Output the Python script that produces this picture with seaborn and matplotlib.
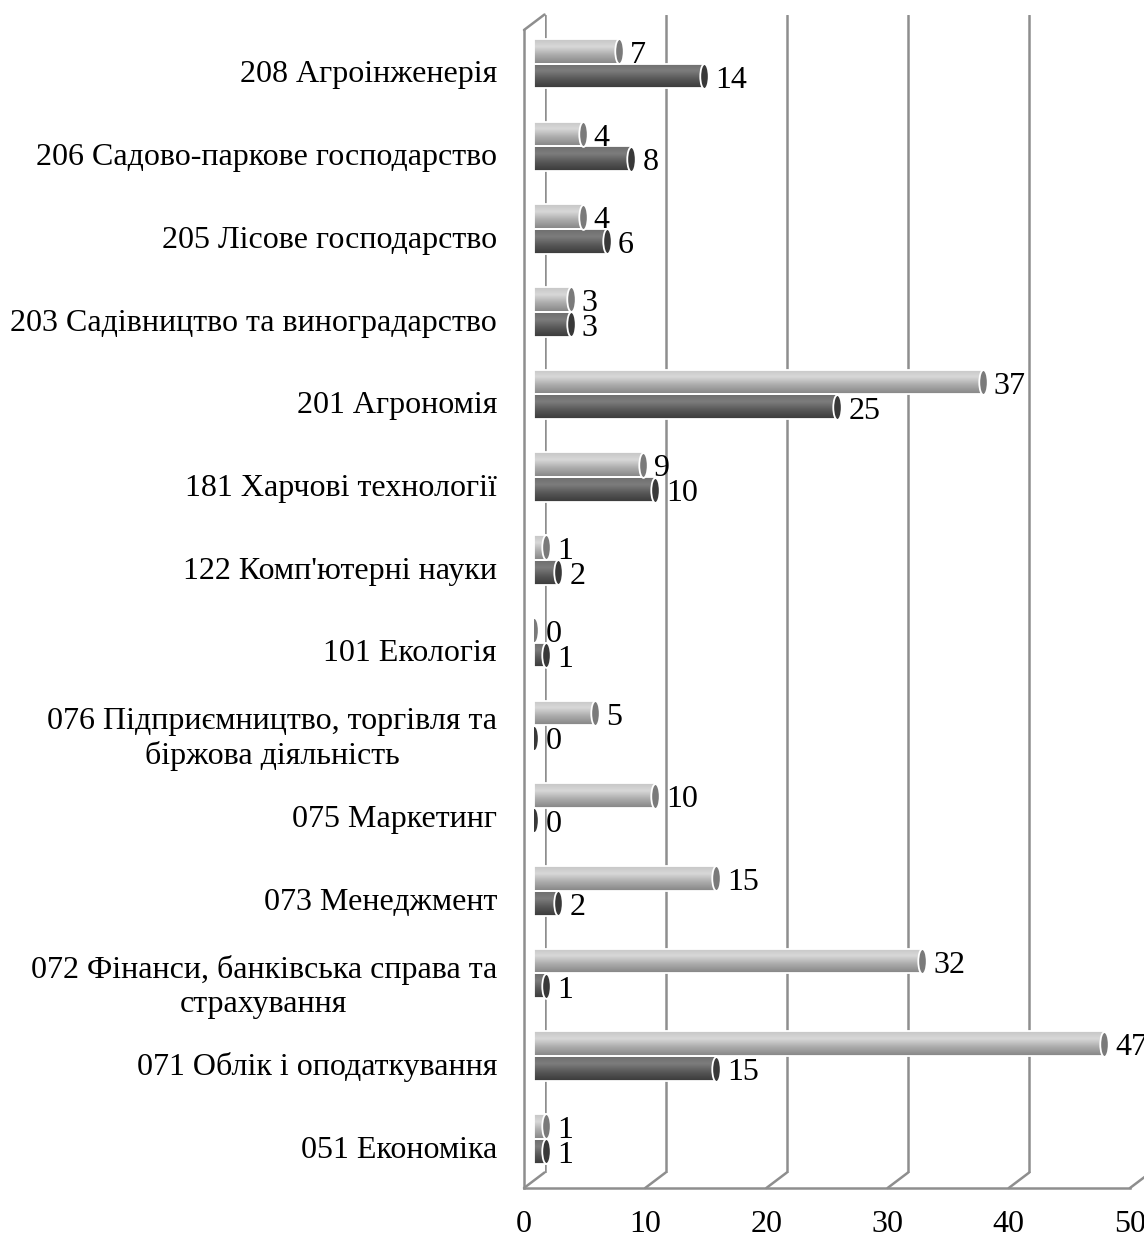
import numpy as np
import pandas as pd
import matplotlib
matplotlib.use("Agg")
import matplotlib.pyplot as plt
import matplotlib.path as mpath
from matplotlib.colors import LinearSegmentedColormap
import seaborn as sns


categories = [
    "208 Агроінженерія",
    "206 Садово-паркове господарство",
    "205 Лісове господарство",
    "203 Садівництво та виноградарство",
    "201 Агрономія",
    "181 Харчові технології",
    "122 Комп'ютерні науки",
    "101 Екологія",
    "076 Підприємництво, торгівля та\nбіржова діяльність",
    "075 Маркетинг",
    "073 Менеджмент",
    "072 Фінанси, банківська справа та\nстрахування",
    "071 Облік і оподаткування",
    "051 Економіка",
]
light_values = [7, 4, 4, 3, 37, 9, 1, 0, 5, 10, 15, 32, 47, 1]
dark_values = [14, 8, 6, 3, 25, 10, 2, 1, 0, 0, 2, 1, 15, 1]
series_names = ["Ряд 1", "Ряд 2"]
x_ticks = [0, 10, 20, 30, 40, 50]

sns.set_style("white")
plt.rcParams["font.family"] = ["Liberation Serif", "DejaVu Serif"]
plt.rcParams["font.size"] = 23
plt.rcParams["text.color"] = "black"
plt.rcParams["xtick.labelcolor"] = "black"
plt.rcParams["ytick.labelcolor"] = "black"

df = pd.DataFrame({
    "category": categories * 2,
    "series": [series_names[0]] * len(categories) + [series_names[1]] * len(categories),
    "value": light_values + dark_values,
})

grid_color = "#8e8e8e"
W, H = 1144, 1238
fig = plt.figure(figsize=(W / 100, H / 100), dpi=100)

# front plane of the 3d box in pixels, depth offset of the back wall
left, right, top, floor = 524, 1130, 30, 1188
depth = (20.5, 15.5)


def plane(dx, dy):
    return [(left + dx) / W, (H - floor + dy) / H, (right - left) / W, (floor - top) / H]


n = len(categories)
ax_back = fig.add_axes(plane(*depth))
ax_bar = fig.add_axes(plane(depth[0] / 2, depth[1] / 2))
ax = fig.add_axes(plane(0, 0))

# back wall gridlines
ax_back.set_xlim(0, 50)
ax_back.set_ylim(n - 0.5, -0.5)
ax_back.set_xticks(x_ticks)
ax_back.set_yticks([])
ax_back.grid(axis="x", color=grid_color, lw=1.8)
ax_back.tick_params(length=0, labelbottom=False)
sns.despine(ax=ax_back, left=True, bottom=True)

# cylinders
sns.barplot(data=df, x="value", y="category", hue="series", orient="h", width=0.6,
            palette=["#bdbdbd", "#5a5a5a"], saturation=1, legend=False, ax=ax_bar)

light_cmap = LinearSegmentedColormap.from_list(
    "light", [(0, "#c6c6c6"), (0.3, "#d8d8d8"), (0.65, "#aaaaaa"), (1, "#858585")])
dark_cmap = LinearSegmentedColormap.from_list(
    "dark", [(0, "#6e6e6e"), (0.3, "#7d7d7d"), (0.65, "#565656"), (1, "#3a3a3a")])
grad = np.linspace(0, 1, 64).reshape(-1, 1)

circle = mpath.Path.unit_circle()
cap_marker = mpath.Path(circle.vertices * [0.34, 1.0], circle.codes)

for container, cmap, cap_color in zip(ax_bar.containers, [light_cmap, dark_cmap], ["#7a7a7a", "#383838"]):
    for p in container:
        x0, y0, w, h = p.get_x(), p.get_y(), p.get_width(), p.get_height()
        if w > 0:
            im = ax_bar.imshow(grad, cmap=cmap, aspect="auto", origin="upper",
                               extent=(x0, x0 + w, y0 + h, y0), zorder=2, interpolation="bilinear")
            im.set_clip_path(p)
        p.set_facecolor("none")
        p.set_edgecolor("white")
        p.set_linewidth(1.3)
        p.set_zorder(3)
        ax_bar.scatter([x0 + w], [y0 + h / 2], marker=cap_marker, s=320, color=cap_color,
                       edgecolor="white", linewidth=1.3, zorder=4)
    labels = ax_bar.bar_label(container, fmt="{:.0f}", padding=8, fontsize=23, color="black")
    for t in labels:
        t.xyann = (t.xyann[0], -3)

ax_bar.set_xlim(0, 50)
ax_bar.set_ylim(n - 0.5, -0.5)
ax_bar.axis("off")

# front: floor, left wall, labels
ax.patch.set_visible(False)
ddx = depth[0] / ((right - left) / 50)
ddy = depth[1] / ((floor - top) / n)
for v in x_ticks:
    ax.plot([v, v + ddx], [n - 0.5, n - 0.5 - ddy], color=grid_color, lw=1.8, clip_on=False)
ax.plot([0, ddx], [-0.5, -0.5 - ddy], color=grid_color, lw=1.8, clip_on=False)

ax.set_xlim(0, 50)
ax.set_ylim(n - 0.5, -0.5)
ax.set_xticks(x_ticks)
ax.set_yticks(range(n))
ax.set_yticklabels(categories)
ax.set_yticks(np.arange(n + 1) - 0.5, minor=True)
for t in ax.get_yticklabels():
    t.set_multialignment("center")
ax.tick_params(axis="y", which="major", length=0, pad=19.5)
ax.tick_params(axis="y", which="minor", length=6, width=1.8, color=grid_color)
ax.tick_params(axis="x", length=6.5, width=1.8, color=grid_color, pad=9)
sns.despine(ax=ax)
for s in ["left", "bottom"]:
    ax.spines[s].set_color(grid_color)
    ax.spines[s].set_linewidth(1.8)

fig.savefig("out.png", dpi=100, facecolor="white")
